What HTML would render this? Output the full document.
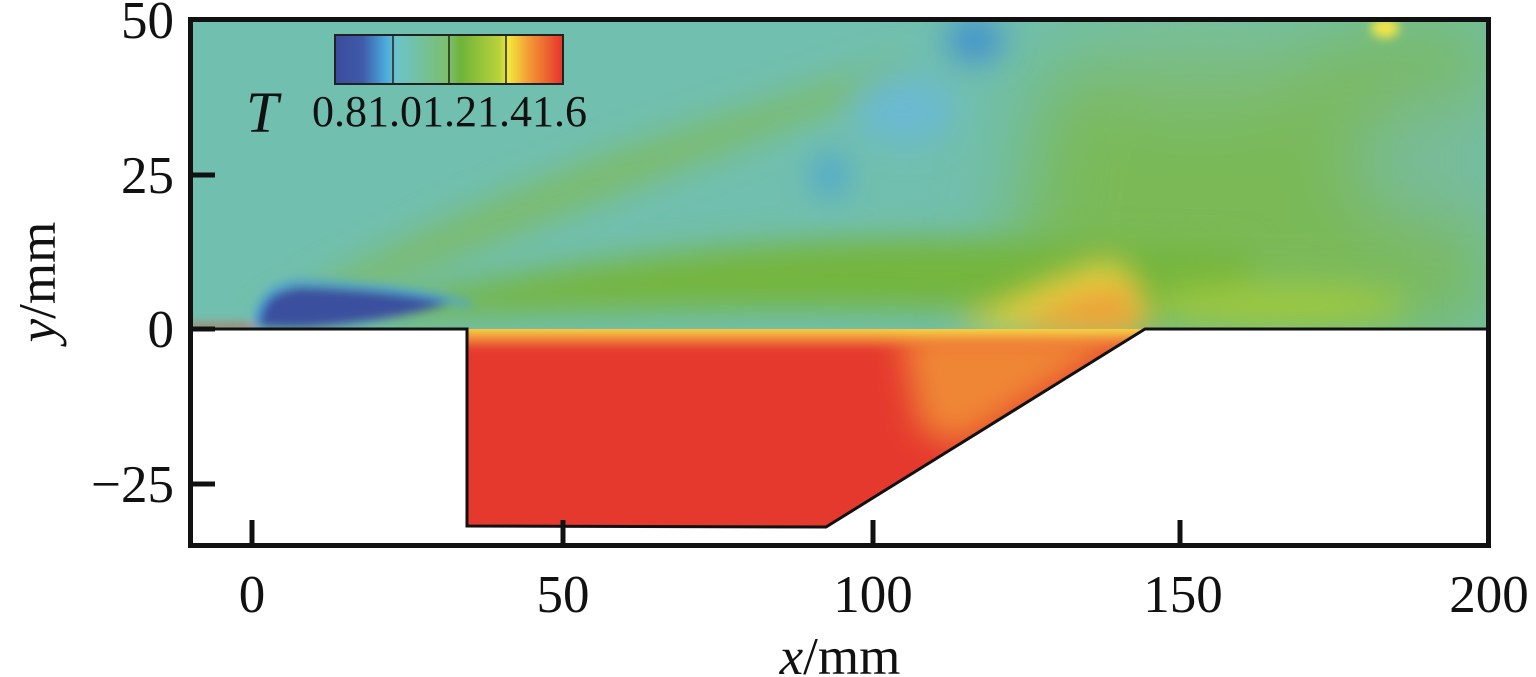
<!DOCTYPE html>
<html><head><meta charset="utf-8"><style>
html,body{margin:0;padding:0;background:#fff;}
svg{display:block;}
text{font-family:"Liberation Serif",serif;fill:#111;}
</style></head><body>
<svg width="1536" height="677" viewBox="0 0 1536 677" xmlns="http://www.w3.org/2000/svg">
<defs>
<filter id="b1" x="-50%" y="-50%" width="200%" height="200%"><feGaussianBlur stdDeviation="16"/></filter>
<filter id="b2" x="-50%" y="-50%" width="200%" height="200%"><feGaussianBlur stdDeviation="5"/></filter>
<filter id="b3" x="-50%" y="-50%" width="200%" height="200%"><feGaussianBlur stdDeviation="40"/></filter>
<clipPath id="flow"><path d="M190,18 H1490 V329 H1145 L826,527 H467 V329 H190 Z"/></clipPath>
<clipPath id="cav"><path d="M467,329 H1145 L826,527 H467 Z"/></clipPath>
<linearGradient id="cb" x1="0" x2="1">
<stop offset="0" stop-color="#3a4c9c"/><stop offset="0.12" stop-color="#3e5aa8"/><stop offset="0.22" stop-color="#4aa8dc"/><stop offset="0.27" stop-color="#6cc3c9"/>
<stop offset="0.5" stop-color="#7cbf6a"/><stop offset="0.55" stop-color="#6eb33a"/><stop offset="0.72" stop-color="#b9d23a"/><stop offset="0.76" stop-color="#f2e83c"/>
<stop offset="0.85" stop-color="#f39a35"/><stop offset="1" stop-color="#e5332c"/>
</linearGradient>
</defs>
<g clip-path="url(#flow)">
<rect x="190" y="18" width="1300" height="530" fill="#71bfae"/>
<g filter="url(#b3)">
<path d="M1050,60 L1490,18 L1490,329 L1000,329 Z" fill="#7ab957"/>
<ellipse cx="1430" cy="160" rx="70" ry="60" fill="#78bca0"/>
<ellipse cx="1200" cy="60" rx="120" ry="40" fill="#7dbd86"/>
</g>
<g filter="url(#b1)">
<path d="M260,322 Q380,240 620,150 L900,60 L910,80 Q600,200 290,322 Z" fill="#7cbb6c"/>
<path d="M380,305 Q700,230 1000,240 L1250,250 L1250,320 Q800,300 380,318 Z" fill="#74b53e"/>
<ellipse cx="975" cy="40" rx="28" ry="22" fill="#3f8fd0"/>
<ellipse cx="830" cy="175" rx="16" ry="22" fill="#4aa3d5"/>
<ellipse cx="905" cy="110" rx="50" ry="35" fill="#6bbad0"/>
<path d="M960,325 Q1060,280 1110,262 Q1140,280 1140,329 L960,329 Z" fill="#e6d33c"/>
<ellipse cx="1280" cy="305" rx="130" ry="22" fill="#9cc840"/>
</g>
<g filter="url(#b1)"><path d="M1030,318 Q1100,285 1125,290 L1145,329 L1020,329 Z" fill="#ef9a38"/></g>
<g filter="url(#b2)">
<path d="M256,327 Q258,292 300,287 Q390,290 450,303 Q390,322 300,328 Z" fill="#3b4f9f"/>
<path d="M256,327 Q258,287 300,282 Q400,286 470,305" fill="none" stroke="#4ea3d8" stroke-width="6"/>
<ellipse cx="1385" cy="28" rx="14" ry="10" fill="#f3e547"/>
<path d="M190,329 L255,329 L255,325 L190,325 Z" fill="#e4442c"/>
</g>
<g clip-path="url(#cav)">
<rect x="467" y="329" width="700" height="200" fill="#e5392e"/>
<g filter="url(#b1)">
<path d="M900,329 L1145,329 L960,445 L920,430 Z" fill="#ef8636"/>
</g>
<g filter="url(#b2)"><rect x="460" y="320" width="700" height="14" fill="#f4e04a"/><rect x="460" y="336" width="700" height="8" fill="#f2903a"/></g>
</g>
</g>
<path d="M190,329 H467 V526 L826,527 L1145,329 H1490" fill="none" stroke="#111" stroke-width="3"/>
<rect x="190.5" y="19.5" width="1298" height="526" fill="none" stroke="#111" stroke-width="5"/>
<g stroke="#111" stroke-width="5">
<line x1="252" y1="546" x2="252" y2="520"/><line x1="563" y1="546" x2="563" y2="520"/>
<line x1="873" y1="546" x2="873" y2="520"/><line x1="1180" y1="546" x2="1180" y2="520"/>
<line x1="190" y1="175" x2="215" y2="175"/><line x1="190" y1="329" x2="215" y2="329"/>
<line x1="190" y1="484" x2="215" y2="484"/>
</g>
<g font-size="53" text-anchor="middle">
<text x="252" y="612">0</text><text x="563" y="612">50</text><text x="873" y="612">100</text>
<text x="1183" y="612">150</text><text x="1489" y="612">200</text>
</g>
<g font-size="53" text-anchor="end">
<text x="174" y="38">50</text><text x="174" y="193">25</text><text x="174" y="347">0</text><text x="174" y="502">−25</text>
</g>
<text x="840" y="674" font-size="53" text-anchor="middle"><tspan font-style="italic">x</tspan>/mm</text>
<text transform="translate(55,282) rotate(-90)" font-size="53" text-anchor="middle"><tspan font-style="italic">y</tspan>/mm</text>
<rect x="335" y="35" width="228" height="49" fill="url(#cb)" stroke="#222" stroke-width="2"/>
<g stroke="#222" stroke-width="1.5"><line x1="393" y1="35" x2="393" y2="84"/><line x1="449" y1="35" x2="449" y2="84"/><line x1="506" y1="35" x2="506" y2="84"/></g>
<text x="246" y="132" font-size="58" font-style="italic">T</text>
<text x="312" y="126" font-size="44">0.81.01.21.41.6</text>
</svg>
</body></html>
